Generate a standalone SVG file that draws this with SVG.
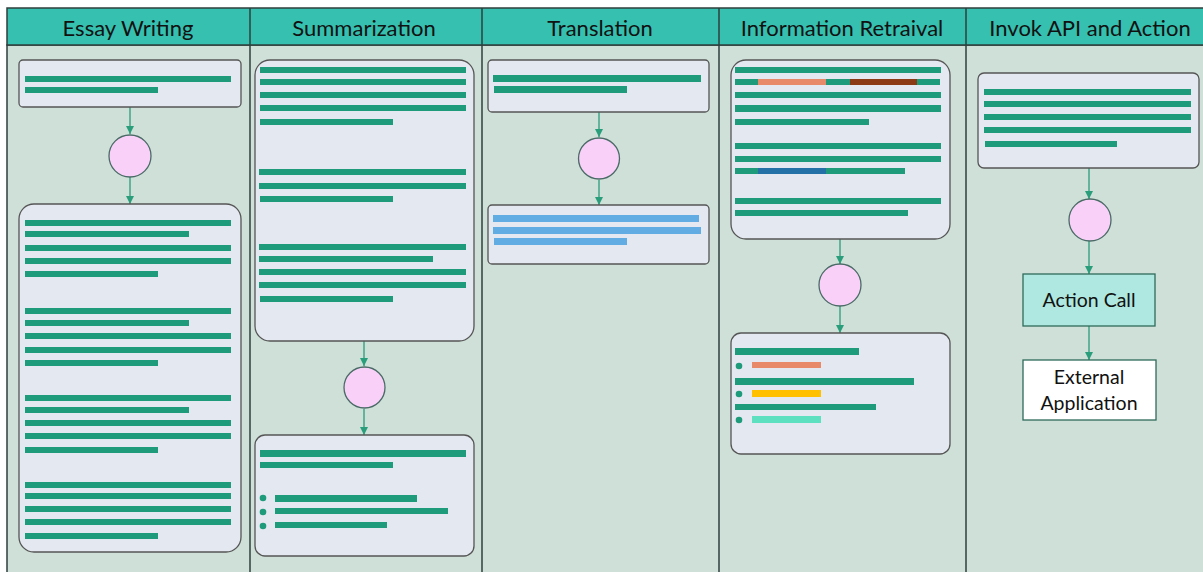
<svg xmlns="http://www.w3.org/2000/svg" width="1203" height="572" viewBox="0 0 1203 572">
<defs>
<marker id="ah" viewBox="0 0 10 10" refX="10" refY="5" markerWidth="8" markerHeight="8" markerUnits="userSpaceOnUse" orient="auto"><path d="M0,0 L10,5 L0,10 z" fill="#2A9D7A"/></marker>
</defs>
<style>
.hdr{fill:#35C0B0;stroke:#2F3F3C;stroke-width:1.5}
.body{fill:#CFE0D8;stroke:#2F3F3C;stroke-width:1.5}
.ht{font-family:Lato,"Open Sans",sans-serif;font-size:22px;fill:#111;text-anchor:middle}
.box{fill:#E4E8F0;stroke:#555;stroke-width:1.3}
.g{fill:#1E9B7A}
.b{fill:#62ACE4}
.dot{fill:#1E9B7A}
.circ{fill:#F8D0F8;stroke:#4A6A66;stroke-width:1.3}
.conn{stroke:#2A9D7A;stroke-width:1.3;fill:none;marker-end:url(#ah)}
.nt{font-family:Lato,"Open Sans",sans-serif;font-size:19.5px;fill:#111;text-anchor:middle}
</style>
<rect x="0" y="0" width="1203" height="572" fill="#fff"/>
<g id="lanes">
<rect class="body" x="7" y="45" width="1210" height="540"/>
<rect class="hdr" x="7" y="8" width="1210" height="37"/>
<line x1="250" y1="8" x2="250" y2="572" stroke="#2F3F3C" stroke-width="1.5"/>
<line x1="482" y1="8" x2="482" y2="572" stroke="#2F3F3C" stroke-width="1.5"/>
<line x1="719" y1="8" x2="719" y2="572" stroke="#2F3F3C" stroke-width="1.5"/>
<line x1="966" y1="8" x2="966" y2="572" stroke="#2F3F3C" stroke-width="1.5"/>
<text class="ht" x="128" y="36">Essay Writing</text>
<text class="ht" x="364" y="36">Summarization</text>
<text class="ht" x="600" y="36">Translation</text>
<text class="ht" x="842" y="36">Information Retraival</text>
<text class="ht" x="1090" y="36">Invok API and Action</text>
</g>
<g id="connectors">
<line class="conn" x1="130" y1="107" x2="130" y2="134"/>
<line class="conn" x1="130" y1="177" x2="130" y2="204"/>
<line class="conn" x1="364" y1="341" x2="364" y2="366"/>
<line class="conn" x1="364" y1="409" x2="364" y2="435"/>
<line class="conn" x1="599" y1="112" x2="599" y2="137"/>
<line class="conn" x1="599" y1="180" x2="599" y2="205"/>
<line class="conn" x1="840" y1="239" x2="840" y2="264"/>
<line class="conn" x1="840" y1="306" x2="840" y2="333"/>
<line class="conn" x1="1089" y1="168" x2="1089" y2="199"/>
<line class="conn" x1="1089" y1="241" x2="1089" y2="274"/>
<line class="conn" x1="1089" y1="326" x2="1089" y2="360"/>
</g>
<g id="essay-prompt">
<rect class="box" x="19" y="60" width="222" height="47" rx="4"/>
<rect class="g" x="25" y="76" width="206" height="6"/>
<rect class="g" x="25" y="87" width="133" height="6"/>
</g>
<g id="essay-llm"><circle class="circ" cx="130" cy="156" r="21"/></g>
<g id="essay-output">
<rect class="box" x="19" y="204" width="222" height="348" rx="15"/>
<rect class="g" x="25" y="220" width="206" height="6"/>
<rect class="g" x="25" y="231" width="164" height="6"/>
<rect class="g" x="25" y="245" width="206" height="6"/>
<rect class="g" x="25" y="258" width="206" height="6"/>
<rect class="g" x="25" y="271" width="133" height="6"/>
<rect class="g" x="25" y="308" width="206" height="6"/>
<rect class="g" x="25" y="320" width="164" height="6"/>
<rect class="g" x="25" y="333" width="206" height="6"/>
<rect class="g" x="25" y="347" width="206" height="6"/>
<rect class="g" x="25" y="360" width="133" height="6"/>
<rect class="g" x="25" y="395" width="206" height="6"/>
<rect class="g" x="25" y="407" width="164" height="6"/>
<rect class="g" x="25" y="420" width="206" height="6"/>
<rect class="g" x="25" y="433" width="206" height="6"/>
<rect class="g" x="25" y="447" width="133" height="6"/>
<rect class="g" x="25" y="482" width="206" height="6"/>
<rect class="g" x="25" y="493" width="206" height="6"/>
<rect class="g" x="25" y="506" width="206" height="6"/>
<rect class="g" x="25" y="519" width="206" height="6"/>
<rect class="g" x="25" y="533" width="133" height="6"/>
</g>
<g id="sum-input">
<rect class="box" x="255" y="60" width="219" height="281" rx="15"/>
<rect class="g" x="260" y="67" width="206" height="6"/>
<rect class="g" x="260" y="79" width="206" height="6"/>
<rect class="g" x="260" y="92" width="206" height="6"/>
<rect class="g" x="260" y="105" width="206" height="6"/>
<rect class="g" x="260" y="119" width="133" height="6"/>
<rect class="g" x="259" y="169" width="207" height="6"/>
<rect class="g" x="259" y="183" width="207" height="6"/>
<rect class="g" x="260" y="196" width="133" height="6"/>
<rect class="g" x="259" y="244" width="207" height="6"/>
<rect class="g" x="259" y="256" width="174" height="6"/>
<rect class="g" x="259" y="269" width="207" height="6"/>
<rect class="g" x="259" y="282" width="207" height="6"/>
<rect class="g" x="260" y="296" width="133" height="6"/>
</g>
<g id="sum-llm"><circle class="circ" cx="364.5" cy="387.5" r="20.5"/></g>
<g id="sum-output">
<rect class="box" x="255" y="435" width="219" height="121" rx="10"/>
<rect class="g" x="260" y="450" width="206" height="7"/>
<rect class="g" x="260" y="462" width="133" height="6"/>
<circle class="dot" cx="263" cy="498" r="3.3"/>
<circle class="dot" cx="263" cy="512" r="3.3"/>
<circle class="dot" cx="263" cy="526" r="3.3"/>
<rect class="g" x="275" y="495" width="142" height="7"/>
<rect class="g" x="275" y="508" width="173" height="6"/>
<rect class="g" x="275" y="522" width="112" height="6"/>
</g>
<g id="tr-input">
<rect class="box" x="488" y="60" width="221" height="52" rx="4"/>
<rect class="g" x="493" y="75" width="208" height="7"/>
<rect class="g" x="494" y="86" width="133" height="7"/>
</g>
<g id="tr-llm"><circle class="circ" cx="599" cy="158.5" r="20.5"/></g>
<g id="tr-output">
<rect class="box" x="488" y="205" width="221" height="59" rx="4"/>
<rect class="b" x="493" y="215" width="206" height="7"/>
<rect class="b" x="493" y="227" width="208" height="7"/>
<rect class="b" x="494" y="238" width="133" height="7"/>
</g>
<g id="ir-input">
<rect class="box" x="731" y="60" width="219" height="179" rx="15"/>
<rect class="g" x="735" y="67" width="206" height="6"/>
<rect class="g" x="735" y="79" width="205" height="6"/>
<rect x="758" y="79" width="68" height="6" fill="#E8896A"/>
<rect x="850" y="79" width="67" height="6" fill="#8B3A15"/>
<rect class="g" x="735" y="92" width="206" height="6"/>
<rect class="g" x="735" y="105" width="206" height="7"/>
<rect class="g" x="735" y="119" width="134" height="6"/>
<rect class="g" x="735" y="143" width="206" height="6"/>
<rect class="g" x="735" y="156" width="206" height="6"/>
<rect class="g" x="735" y="168" width="170" height="6"/>
<rect x="758" y="168" width="68" height="6" fill="#2471A8"/>
<rect class="g" x="735" y="198" width="206" height="6"/>
<rect class="g" x="735" y="210" width="173" height="6"/>
</g>
<g id="ir-llm"><circle class="circ" cx="840" cy="285" r="21"/></g>
<g id="ir-output">
<rect class="box" x="731" y="333" width="219" height="121" rx="10"/>
<rect class="g" x="735" y="348" width="124" height="7"/>
<circle class="dot" cx="739" cy="366" r="3.3"/>
<rect x="752" y="362" width="69" height="6" fill="#E8896A"/>
<rect class="g" x="735" y="378" width="179" height="7"/>
<circle class="dot" cx="739" cy="394" r="3.3"/>
<rect x="752" y="390" width="69" height="7" fill="#FFC000"/>
<rect class="g" x="735" y="404" width="141" height="6"/>
<circle class="dot" cx="739" cy="420" r="3.3"/>
<rect x="752" y="416" width="69" height="7" fill="#5CE0C0"/>
</g>
<g id="api-input">
<rect class="box" x="978" y="73" width="221" height="95" rx="6"/>
<rect class="g" x="984" y="89" width="207" height="6"/>
<rect class="g" x="984" y="101" width="207" height="6"/>
<rect class="g" x="984" y="114" width="207" height="6"/>
<rect class="g" x="984" y="127" width="207" height="6"/>
<rect class="g" x="985" y="141" width="132" height="6"/>
</g>
<g id="api-llm"><circle class="circ" cx="1090" cy="220" r="21"/></g>
<g id="action-call">
<rect x="1023" y="274" width="132" height="52" fill="#AEE8E0" stroke="#2E6B5A" stroke-width="1.3"/>
<text class="nt" x="1089" y="307">Action Call</text>
</g>
<g id="external-app">
<rect x="1023" y="360" width="133" height="60" fill="#fff" stroke="#2E6B5A" stroke-width="1.3"/>
<text class="nt" x="1089" y="384">External</text>
<text class="nt" x="1089" y="410">Application</text>
</g>
</svg>
